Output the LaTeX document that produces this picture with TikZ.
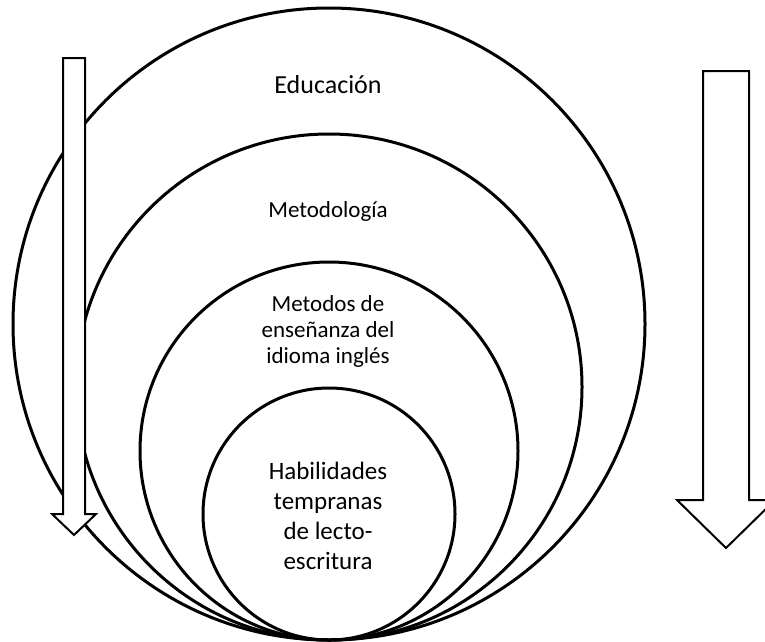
\documentclass[tikz,border=0pt]{standalone}
\usepackage{fontspec}
\setmainfont{Carlito}
\usetikzlibrary{positioning}

\begin{document}
\begin{tikzpicture}[x=1pt, y=-1pt,
  ring/.style={circle, draw=black, line width=3pt, inner sep=0pt, outer sep=0pt, anchor=south},
  ringtext/.style={align=center, inner sep=0pt},
  downarrow/.style={draw=black, line width=2pt, fill=white, line join=miter}]
\useasboundingbox (0,0) rectangle (765,641);
\coordinate (base) at (329,640);
% nested circles, all touching at the bottom
\node[ring, minimum size=632pt] (educacion)   at (base) {};
\node[ring, minimum size=506pt] (metodologia) at (base) {};
\node[ring, minimum size=378pt] (metodos)     at (base) {};
\node[ring, minimum size=252pt] (habilidades) at (base) {};
% texts
\node[ringtext, font=\fontsize{26}{31}\selectfont] (t1) at (328,85) {Educación};
\node[ringtext, font=\fontsize{23}{26}\selectfont] (t2) at (328,211) {Metodología};
\node[ringtext, font=\fontsize{23}{26}\selectfont] (t3) at (328,331) {Metodos de\\enseñanza del\\idioma inglés};
\node[ringtext, font=\fontsize{25}{30}\selectfont] (t4) at (328,516) {Habilidades\\tempranas\\de lecto-\\escritura};
% arrows
\draw[downarrow] (63,58) -- (85,58) -- (85,514) -- (96,514) -- (74,535) -- (52,514) -- (63,514) -- cycle;
\draw[downarrow] (703,71) -- (749,71) -- (749,500) -- (775,500) -- (726,548) -- (677,500) -- (703,500) -- cycle;
\end{tikzpicture}
\end{document}
